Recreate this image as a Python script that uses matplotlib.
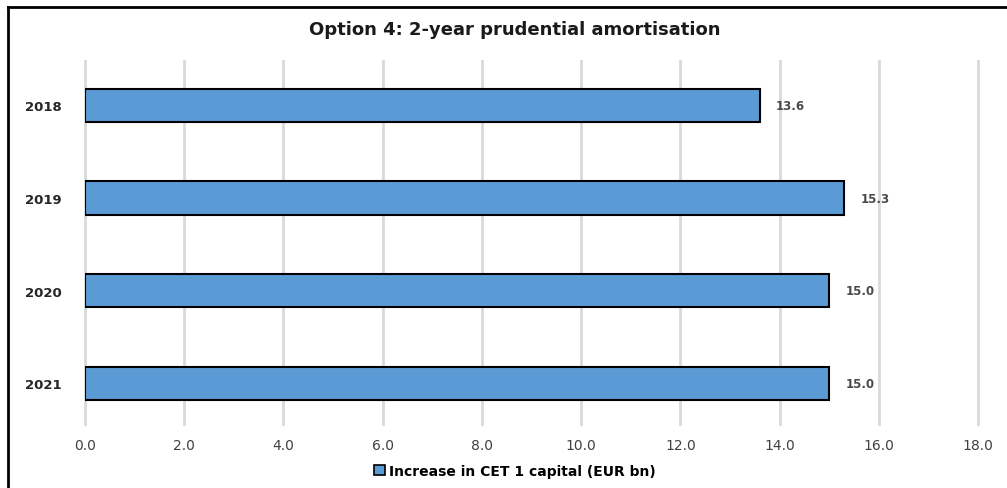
import matplotlib
matplotlib.use("Agg")
import matplotlib.pyplot as plt
from matplotlib.lines import Line2D
from matplotlib.patches import Patch

categories = ["2018", "2019", "2020", "2021"]
values = [13.6, 15.3, 15.0, 15.0]
xticks = [0, 2, 4, 6, 8, 10, 12, 14, 16, 18]
title = "Option 4: 2-year prudential amortisation"
legend_label = "Increase in CET 1 capital (EUR bn)"

bar_color = "#5b9bd5"

fig = plt.figure(figsize=(10.07, 4.89), dpi=100)
ax = fig.add_axes([85/1007, 64/489, (978-85)/1007, (425-62)/489])

pos = list(range(len(categories)))
ax.barh(pos, values, height=0.36, color=bar_color, edgecolor="black", linewidth=1.5, zorder=3)
for p, v in zip(pos, values):
    ax.text(v + 0.33, p, f"{v:.1f}", va="center", ha="left", fontsize=8.5,
            color="#4a4a4a", fontweight="bold", fontfamily="DejaVu Sans")

ax.set_xlim(0, 18)
ax.set_ylim(3.44, -0.48)
ax.set_xticks(xticks)
ax.set_xticklabels([f"{t:.1f}" for t in xticks], fontsize=10, color="#404040")
ax.set_yticks(pos)
ax.set_yticklabels(categories, fontsize=9.5, fontweight="bold", color="#262626")
ax.tick_params(axis="x", length=0, pad=10)
ax.tick_params(axis="y", length=0, pad=17)
ax.grid(axis="x", color="#d9d9d9", linewidth=2, zorder=0)
for gl in ax.get_xgridlines():
    gl.set_clip_on(False)
for s in ax.spines.values():
    s.set_visible(False)

fig.text(515/1007, 1 - 30/489, title, ha="center", va="center", fontsize=13,
         fontweight="bold", fontfamily="DejaVu Sans", color="#1a1a1a")

handle = Patch(facecolor=bar_color, edgecolor="black", linewidth=1.2)
fig.legend([handle], [legend_label], loc="center", bbox_to_anchor=(515/1007, 1 - 472/489),
           frameon=False, prop={"size": 10, "weight": "bold"}, handlelength=0.8,
           handleheight=0.8, handletextpad=0.3)

# outer border lines (left and top)
fig.add_artist(Line2D([8/1007, 8/1007], [0, 1 - 8/489], transform=fig.transFigure,
                      color="black", linewidth=2))
fig.add_artist(Line2D([8/1007, 1], [1 - 8/489, 1 - 8/489], transform=fig.transFigure,
                      color="black", linewidth=2))

fig.savefig("out.png", dpi=100)
